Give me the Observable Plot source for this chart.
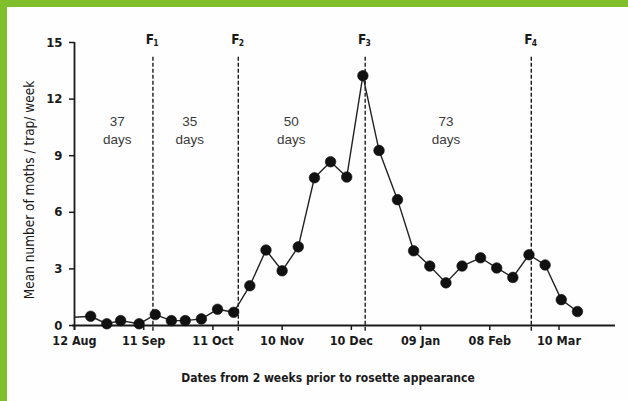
<!DOCTYPE html>
<html>
<head>
<meta charset="utf-8">
<script src="https://cdn.jsdelivr.net/npm/d3@7"></script>
<script src="https://cdn.jsdelivr.net/npm/@observablehq/plot@0.6"></script>
<style>
  html, body { margin: 0; padding: 0; background: #ffffff; }
  #chart { width: 628px; height: 401px; position: relative; box-shadow: inset 7px 7px 0 #80bf2b; background: #fefefe; }
  #chart svg { display: block; font-stretch: condensed; }
  #chart svg text { font-stretch: condensed; }
</style>
</head>
<body>
<div id="chart"></div>
<script>
// Days since 12 Aug for each weekly trap count
const sampleDays = [7, 14, 20, 28, 35, 42, 48, 55, 62, 69, 76, 83, 90, 97, 104, 111, 118, 125, 132, 140, 147, 154, 161, 168, 176, 183, 190, 197, 204, 211, 218];
const mothsPerTrap = [0.49, 0.09, 0.26, 0.09, 0.58, 0.26, 0.26, 0.35, 0.86, 0.70, 2.11, 4.0, 2.9, 4.17, 7.83, 8.68, 7.87, 13.24, 9.28, 6.67, 3.96, 3.15, 2.26, 3.15, 3.59, 3.05, 2.55, 3.75, 3.21, 1.37, 0.74];
// line begins at the y-axis before the first marker
const lineStartDay = 0;
const lineStartValue = 0.44;

const xTickDays = [0, 30, 60, 90, 120, 150, 180, 210];
const xTickLabels = ["12 Aug", "11 Sep", "11 Oct", "10 Nov", "10 Dec", "09 Jan", "08 Feb", "10 Mar"];
const yTicks = [0, 3, 6, 9, 12, 15];

const flightDays = [34, 71, 126, 198];
const flightLabels = ["1", "2", "3", "4"];

const periodDays = [18.5, 50, 94, 161];
const periodLabels = ["37\ndays", "35\ndays", "50\ndays", "73\ndays"];

const yTitle = "Mean number of moths / trap/ week";
const xTitle = "Dates from 2 weeks prior to rosette appearance";

const series = [{day: lineStartDay, value: lineStartValue}]
  .concat(sampleDays.map((d, i) => ({day: d, value: mothsPerTrap[i]})));
const dots = sampleDays.map((d, i) => ({day: d, value: mothsPerTrap[i]}));
const flights = flightDays.map((d, i) => ({day: d, sub: flightLabels[i]}));
const periods = periodDays.map((d, i) => ({day: d, label: periodLabels[i]}));
const tickLabelMap = new Map(xTickDays.map((d, i) => [d, xTickLabels[i]]));

const narrow = "'Liberation Sans Narrow', 'Arial Narrow', 'DejaVu Sans Condensed', 'DejaVu Sans', sans-serif";
const ink = "#1a1a1a";

const chart = Plot.plot({
  width: 628,
  height: 401,
  marginLeft: 74,
  marginRight: 13,
  marginTop: 42,
  marginBottom: 76,
  x: {domain: [0, 234.5]},
  y: {domain: [0, 15]},
  style: {background: "transparent", fontFamily: narrow, color: ink},
  marks: [
    Plot.axisY({ticks: yTicks, tickSize: 5, tickPadding: 7, fontSize: 13, fontWeight: "bold", label: null, stroke: ink, strokeWidth: 1.5}),
    Plot.axisX({ticks: xTickDays, tickFormat: d => tickLabelMap.get(d), tickSize: 5, tickPadding: 6, fontSize: 12.5, fontWeight: "bold", label: null, stroke: ink, strokeWidth: 1.5}),
    Plot.ruleY([0], {x1: -0.8, x2: 234.5, stroke: ink, strokeWidth: 1.8}),
    Plot.ruleX([0], {y1: -0.25, y2: 15, stroke: ink, strokeWidth: 1.8}),
    Plot.ruleX(flights, {x: "day", y1: -0.3, y2: 14.3, stroke: ink, strokeWidth: 1.4, strokeDasharray: "4,2"}),
    Plot.line(series, {x: "day", y: "value", stroke: "#222", strokeWidth: 1.4}),
    Plot.dot(dots, {x: "day", y: "value", r: 5.3, fill: "#111", stroke: "#111", strokeWidth: 0.6}),
    Plot.text(periods, {x: "day", y: 10.4, text: "label", fontFamily: "'Liberation Sans', Arial, sans-serif", fontSize: 13.5, lineHeight: 1.35, fill: "#3a3a3a"}),
    Plot.text(flights, {x: "day", y: 15, text: d => "F", dx: -3, dy: -3, fontSize: 13.5, fontWeight: "bold", fill: ink}),
    Plot.text(flights, {x: "day", y: 15, text: "sub", dx: 3, dy: 1, fontSize: 8.5, fontWeight: "bold", fill: ink}),
    Plot.text([yTitle], {frameAnchor: "left", textAnchor: "middle", lineAnchor: "middle", dx: -45, dy: 6, rotate: -90, fontSize: 13.5, fill: ink}),
    Plot.text([xTitle], {frameAnchor: "bottom", textAnchor: "middle", lineAnchor: "middle", dx: -17, dy: 53, fontSize: 12, fontWeight: "bold", fill: ink})
  ]
});
document.getElementById("chart").appendChild(chart);
</script>
</body>
</html>
